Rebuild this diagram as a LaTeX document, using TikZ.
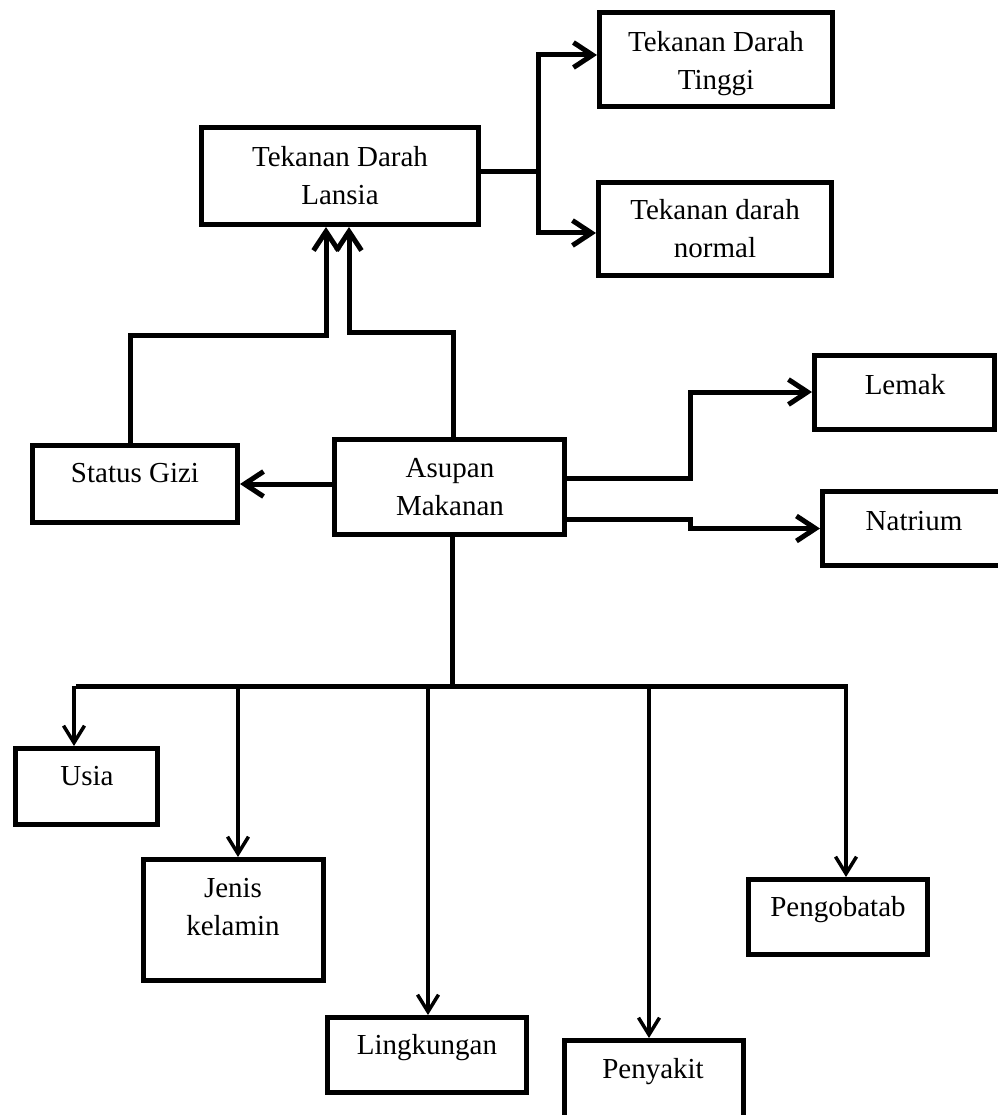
\documentclass[tikz,border=0pt]{standalone}
\usepackage{fontspec}
\setmainfont{Liberation Serif}
\usetikzlibrary{arrows.meta}
\begin{document}
\begin{tikzpicture}[x=1pt,y=-1pt,
  box/.style={draw, line width=5pt, rectangle, inner sep=0pt},
  txt/.style={font=\fontsize{29}{38}\selectfont, align=center, inner sep=0pt, anchor=north},
  conn/.style={line width=5pt, -{Straight Barb[length=19pt,width=25pt]}},
  link/.style={line width=5pt},
  drop/.style={line width=3.5pt, -{Straight Barb[length=17pt,width=21pt]}}
]
\useasboundingbox (0,0) rectangle (997,1115);
% boxes
\node[box, minimum width=233pt, minimum height=94pt] (tdt) at (716,59.5) {};
\node[box, minimum width=277pt, minimum height=97pt] (tdl) at (340,176) {};
\node[box, minimum width=233pt, minimum height=93pt] (tdn) at (715,229) {};
\node[box, minimum width=205pt, minimum height=77pt] (gizi) at (135,484) {};
\node[box, minimum width=230pt, minimum height=95pt] (asupan) at (449.5,487) {};
\node[box, minimum width=180pt, minimum height=74pt] (lemak) at (904.5,392) {};
\node[box, minimum width=183pt, minimum height=74pt] (natrium) at (914,528.5) {};
\node[box, minimum width=142pt, minimum height=76pt] (usia) at (86.5,786.5) {};
\node[box, minimum width=180pt, minimum height=121pt] (jenis) at (233.5,920) {};
\node[box, minimum width=199pt, minimum height=75pt] (lingk) at (427,1055) {};
\node[box, minimum width=179pt, minimum height=92pt] (penyakit) at (654,1086.5) {};
\node[box, minimum width=179pt, minimum height=75pt] (pengob) at (838,917) {};
% texts
\node[txt] (ttdt) at (716,31) {Tekanan Darah\\Tinggi};
\node[txt] (ttdl) at (340,146) {Tekanan Darah\\Lansia};
\node[txt] (ttdn) at (715,199) {Tekanan darah\\normal};
\node[txt] (tgizi) at (135,463) {Status Gizi};
\node[txt] (tasupan) at (450,458) {Asupan\\Makanan};
\node[txt] (tlemak) at (905,374) {Lemak};
\node[txt] (tnatrium) at (914,511) {Natrium};
\node[txt] (tusia) at (87,766) {Usia};
\node[txt] (tjenis) at (233,878) {Jenis\\kelamin};
\node[txt] (tlingk) at (427,1034) {Lingkungan};
\node[txt] (tpenyakit) at (653,1058) {Penyakit};
\node[txt] (tpengob) at (838,896) {Pengobatab};
% top branch
\coordinate (br) at (538,172);
\draw[link] (tdl.east |- br) -- (br);
\draw[conn] (br) |- ([yshift=4.5pt]tdt.west);
\draw[conn] (br) |- ([yshift=-4pt]tdn.west);
% up arrows into TDL
\coordinate (g1) at (326,335);
\coordinate (a1) at (349,332);
\draw[conn] ([xshift=-5pt]gizi.north) |- (g1) -- (g1 |- tdl.south);
\draw[conn] ([xshift=3.5pt]asupan.north) |- (a1) -- (a1 |- tdl.south);
% asupan to status gizi
\draw[conn] (asupan.west |- gizi.east) -- (gizi.east);
% asupan to lemak / natrium
\coordinate (l1) at (690,478);
\coordinate (n1) at (690,519);
\draw[conn] (asupan.east |- l1) -- (l1) |- (lemak.west);
\draw[conn] (asupan.east |- n1) -- (n1) |- (natrium.west);
% bus
\coordinate (bus) at (452,686);
\coordinate (busL) at (76,686);
\coordinate (busR) at (848,686);
\draw[link] ([xshift=2.5pt]asupan.south) -- (bus);
\draw[link] (busL) -- (busR);
\coordinate (dU) at (74,686);
\coordinate (dJ) at (238,686);
\coordinate (dL) at (428,686);
\coordinate (dP) at (649,686);
\coordinate (dG) at (846,686);
\draw[drop] (dU) -- (dU |- usia.north);
\draw[drop] (dJ) -- (dJ |- jenis.north);
\draw[drop] (dL) -- (dL |- lingk.north);
\draw[drop] (dP) -- (dP |- penyakit.north);
\draw[drop] (dG) -- (dG |- pengob.north);
\end{tikzpicture}
\end{document}
